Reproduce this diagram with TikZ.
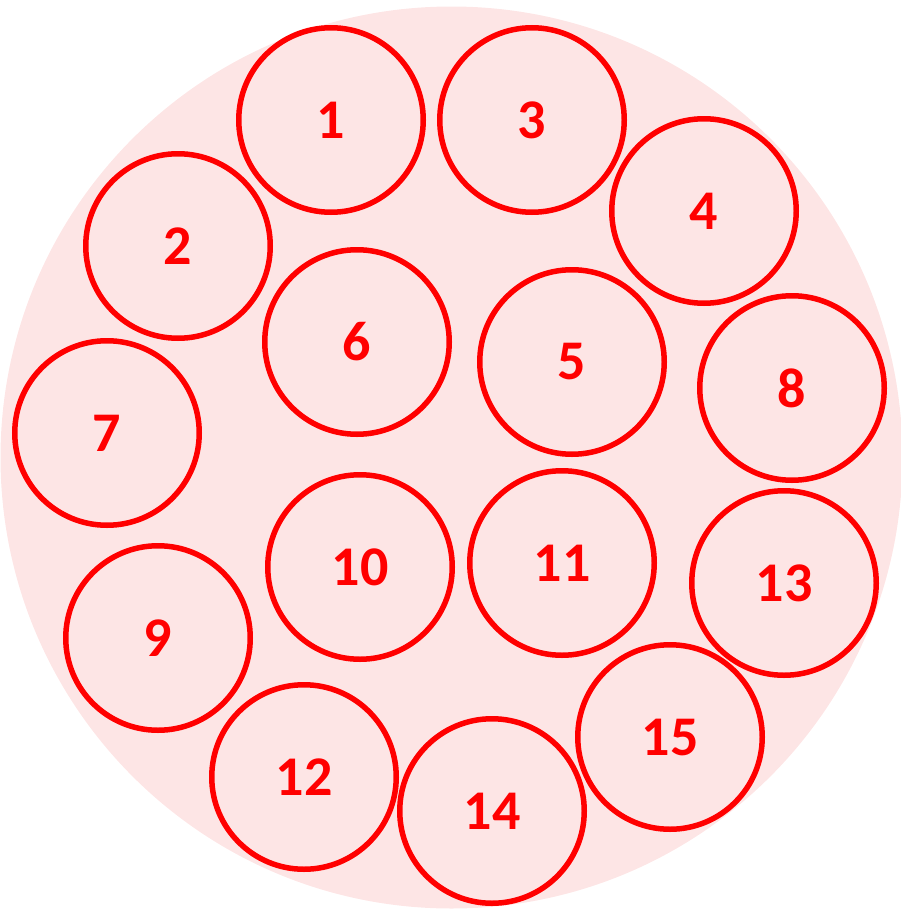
\documentclass[tikz,border=0pt]{standalone}
\usepackage{fontspec}
\setmainfont{Carlito}
\definecolor{wirered}{HTML}{FF0000}
\definecolor{bundlepink}{HTML}{FDE5E5}
\tikzset{
  wire/.style={circle, draw=wirered, line width=5.5pt, minimum size=184.5pt, inner sep=0pt,
    text=wirered, font=\fontsize{56}{64}\selectfont\bfseries},
}
\begin{document}
\begin{tikzpicture}[x=1pt,y=-1pt]
\useasboundingbox (0,0) rectangle (901,910);
% bundle outline
\fill[bundlepink] (451.5,457.5) circle (451);
% outer ring
\node[wire] (c1) at (331,120) {1};
\node[wire] (c3) at (532,120) {3};
\node[wire] (c4) at (704,211) {4};
\node[wire] (c2) at (178,246) {2};
\node[wire] (c8) at (792,388) {8};
\node[wire] (c7) at (107,433) {7};
\node[wire] (c13) at (784,583) {13};
\node[wire] (c9) at (158,638) {9};
\node[wire] (c15) at (670,737) {15};
\node[wire] (c12) at (304,777) {12};
\node[wire] (c14) at (492,811) {14};
% inner wires
\node[wire] (c6) at (357,342) {6};
\node[wire] (c5) at (572,362) {5};
\node[wire] (c10) at (360,567) {10};
\node[wire] (c11) at (562,563) {11};
\end{tikzpicture}
\end{document}
